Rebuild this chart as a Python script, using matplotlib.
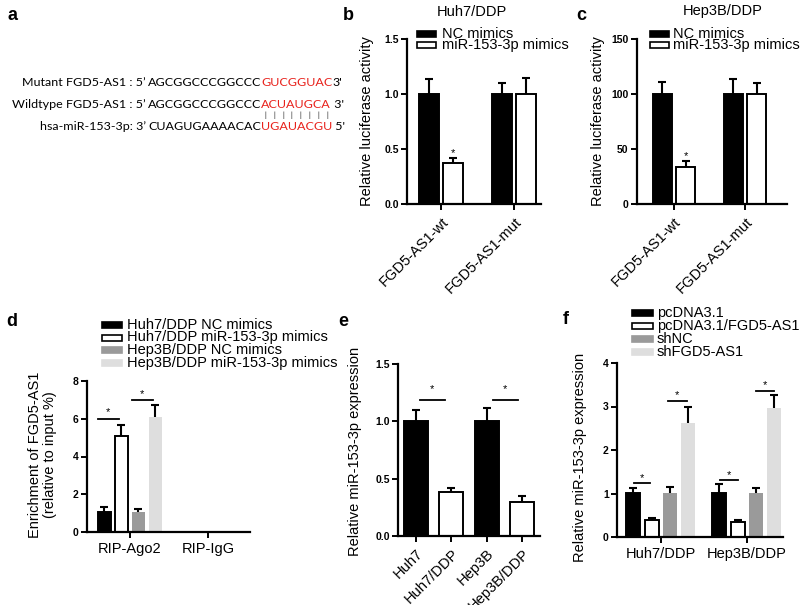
import matplotlib
matplotlib.use('Agg')
import matplotlib.pyplot as plt
from matplotlib.patches import Rectangle
import numpy as np

plt.rcParams['font.family'] = ['Liberation Sans', 'DejaVu Sans']

# ---------------- data ----------------
# panel a
seq_prefix = ["Mutant FGD5-AS1 : 5\u2019", "Wildtype FGD5-AS1 : 5\u2019", "hsa-miR-153-3p: 3\u2019"]
seq_black = ["AGCGGCCCGGCCC", "AGCGGCCCGGCCC", "CUAGUGAAAACAC"]
seq_red = ["GUCGGUAC", "ACUAUGCA", "UGAUACGU"]
seq_end = ["3'", " 3'", " 5'"]

# panel b
b_groups = ["FGD5-AS1-wt", "FGD5-AS1-mut"]
b_nc = [1.0, 1.0]
b_nc_err = [0.14, 0.10]
b_mir = [0.37, 1.0]
b_mir_err = [0.05, 0.15]
b_legend = ["NC mimics", "miR-153-3p mimics"]

# panel c
c_groups = ["FGD5-AS1-wt", "FGD5-AS1-mut"]
c_nc = [100, 100]
c_nc_err = [11, 14]
c_mir = [34, 100]
c_mir_err = [5, 10]

# panel d
d_groups = ["RIP-Ago2", "RIP-IgG"]
d_legend = ["Huh7/DDP NC mimics", "Huh7/DDP miR-153-3p mimics",
            "Hep3B/DDP NC mimics", "Hep3B/DDP miR-153-3p mimics"]
d_vals = [[1.05, 0.0], [5.08, 0.0], [1.05, 0.0], [6.08, 0.0]]
d_errs = [[0.27, 0.0], [0.61, 0.0], [0.18, 0.0], [0.63, 0.0]]

# panel e
e_cats = ["Huh7", "Huh7/DDP", "Hep3B", "Hep3B/DDP"]
e_vals = [1.0, 0.38, 1.0, 0.30]
e_errs = [0.10, 0.04, 0.12, 0.05]

# panel f
f_groups = ["Huh7/DDP", "Hep3B/DDP"]
f_legend = ["pcDNA3.1", "pcDNA3.1/FGD5-AS1", "shNC", "shFGD5-AS1"]
f_vals = [[1.01, 1.01], [0.40, 0.35], [1.02, 1.02], [2.62, 2.97]]
f_errs = [[0.11, 0.20], [0.04, 0.03], [0.14, 0.11], [0.38, 0.30]]

# ---------------- styling ----------------
W, H = 800, 605
fig = plt.figure(figsize=(8, 6.05), dpi=100)
BLACK, WHITE, GREY, LIGHT = "#000000", "#ffffff", "#9a9a9a", "#dedede"
four_fc = [BLACK, WHITE, GREY, LIGHT]
four_ec = [BLACK, BLACK, "none", "none"]


def fx(x):
    return x / W


def fy(y):
    return 1 - y / H


def make_ax(x0, x1, ytop, ybot):
    ax = fig.add_axes([fx(x0), fy(ybot), (x1 - x0) / W, (ybot - ytop) / H])
    ax.spines[['top', 'right']].set_visible(False)
    for s in ['left', 'bottom']:
        ax.spines[s].set_linewidth(1.6)
    ax.tick_params(axis='both', width=1.4, length=4, direction='out')
    return ax


def yticks(ax, ticks, labels):
    ax.set_ylim(ticks[0], ticks[-1])
    ax.set_yticks(ticks)
    ax.set_yticklabels(labels, fontsize=7.5, fontweight='bold')
    ax.tick_params(axis='y', pad=2)


def bars(ax, x, vals, errs, width, fc, ec):
    ax.bar(x, vals, width, color=fc, edgecolor=ec, linewidth=1.4, zorder=2)
    x = np.asarray(x, float)
    v = np.asarray(vals, float)
    e = np.asarray(errs, float)
    m = e > 0
    ax.vlines(x[m], v[m], v[m] + e[m], color='black', lw=1.5, zorder=3)
    ax.plot(x[m], v[m] + e[m], ls='none', marker='_', ms=6, mew=1.5,
            color='black', zorder=3)


def bracket(ax, xa, xb, y, ystar):
    ax.plot([xa, xb], [y, y], color='black', lw=1.3, clip_on=False)
    ax.text((xa + xb) / 2, ystar, '*', ha='center', va='center', fontsize=8)


def legend(x, ys, labels, fcs, ecs, w=19, h=6, tx=None, fs=10.5):
    for y, lab, fc, ec in zip(ys, labels, fcs, ecs):
        fig.add_artist(Rectangle((fx(x), fy(y + h / 2)), w / W, h / H,
                                 transform=fig.transFigure, facecolor=fc,
                                 edgecolor=(ec if ec != 'none' else fc),
                                 linewidth=1.2))
        fig.text(fx(tx if tx else x + w + 5), fy(y), lab, ha='left',
                 va='center', fontsize=fs)


def panel_label(x, y, s):
    fig.text(fx(x), fy(y), s, fontsize=13, fontweight='bold',
             ha='center', va='center')


# ---------------- panel a ----------------
panel_label(12, 15, 'a')
renderer = fig.canvas.get_renderer()
fam = ['Lato', 'DejaVu Sans']
probe = fig.text(0, 0, seq_black[0], fontsize=10, family=fam)
w10 = probe.get_window_extent(renderer).width
probe.remove()
sfs = 10 * 112 / w10
row_y = [83, 105, 126]
wt_red_centers = []
for i in range(3):
    y = row_y[i]
    fig.text(fx(146), fy(y), seq_prefix[i], ha='right', va='center',
             fontsize=sfs, family=fam)
    t1 = fig.text(fx(148), fy(y), seq_black[i], ha='left', va='center',
                  fontsize=sfs, family=fam)
    x_red = t1.get_window_extent(renderer).x1
    t2 = fig.text(x_red / W, fy(y), seq_red[i], ha='left', va='center',
                  fontsize=sfs, family=fam, color='#e8221c')
    x_end = t2.get_window_extent(renderer).x1
    fig.text(x_end / W, fy(y), seq_end[i], ha='left', va='center',
             fontsize=sfs, family=fam)
    if i == 1:
        for k in range(len(seq_red[i])):
            p = fig.text(0, 0, seq_red[i][:k], fontsize=sfs, family=fam)
            a0 = p.get_window_extent(renderer).width if k else 0
            p.remove()
            p = fig.text(0, 0, seq_red[i][:k + 1], fontsize=sfs, family=fam)
            a1 = p.get_window_extent(renderer).width
            p.remove()
            wt_red_centers.append(x_red + (a0 + a1) / 2)
for xc in wt_red_centers:
    fig.text(xc / W, fy(115.5), '|', ha='center', va='center',
             fontsize=sfs * 0.6, family=fam)

# ---------------- panel b ----------------
panel_label(348, 16, 'b')
axb = make_ax(407, 541, 39, 204)
xb = np.arange(len(b_groups))
off = 0.168
bars(axb, xb - off, b_nc, b_nc_err, 0.27, BLACK, BLACK)
bars(axb, xb + off, b_mir, b_mir_err, 0.27, WHITE, BLACK)
axb.text(xb[0] + off, b_mir[0] + b_mir_err[0] + 0.04, '*', ha='center',
         va='center', fontsize=8)
axb.set_xlim(-0.466, 1.37)
yticks(axb, [0, 0.5, 1.0, 1.5], ['0.0', '0.5', '1.0', '1.5'])
axb.set_xticks(xb)
axb.set_xticklabels(b_groups, rotation=45, ha='right', va='top',
                    rotation_mode='anchor', fontsize=10.5)
fig.text(fx(472), fy(12), 'Huh7/DDP', ha='center', va='center', fontsize=10.5)
fig.text(fx(367), fy(121), 'Relative luciferase activity', rotation=90,
         ha='center', va='center', fontsize=10.5)
legend(417, [34, 45], b_legend, [BLACK, WHITE], [BLACK, BLACK], w=19, h=6,
       tx=442)

# ---------------- panel c ----------------
panel_label(581, 16, 'c')
axc = make_ax(637, 787, 39, 204)
xc = np.arange(len(c_groups))
offc = 0.165
bars(axc, xc - offc, c_nc, c_nc_err, 0.265, BLACK, BLACK)
bars(axc, xc + offc, c_mir, c_mir_err, 0.265, WHITE, BLACK)
axc.text(xc[0] + offc, c_mir[0] + c_mir_err[0] + 5, '*', ha='center',
         va='center', fontsize=8)
axc.set_xlim(-0.52, 1.59)
yticks(axc, [0, 50, 100, 150], ['0', '50', '100', '150'])
axc.set_xticks(xc)
axc.set_xticklabels(c_groups, rotation=45, ha='right', va='top',
                    rotation_mode='anchor', fontsize=10.5)
fig.text(fx(723), fy(11), 'Hep3B/DDP', ha='center', va='center',
         fontsize=10.5)
fig.text(fx(598), fy(121), 'Relative luciferase activity', rotation=90,
         ha='center', va='center', fontsize=10.5)
legend(650, [34, 45], b_legend, [BLACK, WHITE], [BLACK, BLACK], w=19, h=6,
       tx=673)

# ---------------- panel d ----------------
panel_label(12, 321, 'd')
axd = make_ax(87, 250, 381, 532)
xd = np.arange(len(d_groups))
step_d = 0.218
for k in range(4):
    bars(axd, xd + (k - 1.5) * step_d, d_vals[k], d_errs[k], 0.175,
         four_fc[k], four_ec[k])
axd.set_xlim(-0.55, 1.54)
yticks(axd, [0, 2, 4, 6, 8], ['0', '2', '4', '6', '8'])
axd.set_xticks(xd)
axd.set_xticklabels(d_groups, fontsize=10.5)
bracket(axd, -0.41, -0.14, 5.98, 6.36)
bracket(axd, 0.03, 0.29, 7.0, 7.3)
fig.text(fx(35), fy(455), 'Enrichment of FGD5-AS1', rotation=90,
         ha='center', va='center', fontsize=10.5)
fig.text(fx(50), fy(455), '(relative to input %)', rotation=90,
         ha='center', va='center', fontsize=10.5)
legend(102, [325, 337.5, 350, 362.5], d_legend, four_fc, four_ec, w=20, h=6,
       tx=127)

# ---------------- panel e ----------------
panel_label(343, 322, 'e')
axe = make_ax(398, 540, 364, 536)
xe = np.arange(len(e_cats))
bars(axe, xe, e_vals, e_errs, 0.68, [BLACK, WHITE, BLACK, WHITE], BLACK)
axe.set_xlim(-0.51, 3.51)
yticks(axe, [0, 0.5, 1.0, 1.5], ['0.0', '0.5', '1.0', '1.5'])
axe.set_xticks(xe)
axe.set_xticklabels(e_cats, rotation=45, ha='right', va='top',
                    rotation_mode='anchor', fontsize=10.5)
bracket(axe, 0.11, 0.82, 1.19, 1.28)
bracket(axe, 2.17, 2.89, 1.19, 1.28)
fig.text(fx(355), fy(451), 'Relative miR-153-3p expression', rotation=90,
         ha='center', va='center', fontsize=10.5)

# ---------------- panel f ----------------
panel_label(566, 319, 'f')
axf = make_ax(617, 783, 363, 537)
xf = np.arange(len(f_groups))
step_f = 0.213
for k in range(4):
    bars(axf, xf + (k - 1.5) * step_f, f_vals[k], f_errs[k], 0.163,
         four_fc[k], four_ec[k])
axf.set_xlim(-0.51, 1.42)
yticks(axf, [0, 1, 2, 3, 4], ['0', '1', '2', '3', '4'])
axf.set_xticks(xf)
axf.set_xticklabels(f_groups, fontsize=10.5)
bracket(axf, -0.31, -0.13, 1.23, 1.36)
bracket(axf, 0.08, 0.30, 3.13, 3.26)
bracket(axf, 0.69, 0.90, 1.30, 1.43)
bracket(axf, 1.11, 1.32, 3.36, 3.49)
fig.text(fx(580), fy(457), 'Relative miR-153-3p expression', rotation=90,
         ha='center', va='center', fontsize=10.5)
legend(632, [313, 326, 339, 352], f_legend, four_fc, four_ec, w=21, h=6,
       tx=657)

fig.savefig('out.png', dpi=100)
